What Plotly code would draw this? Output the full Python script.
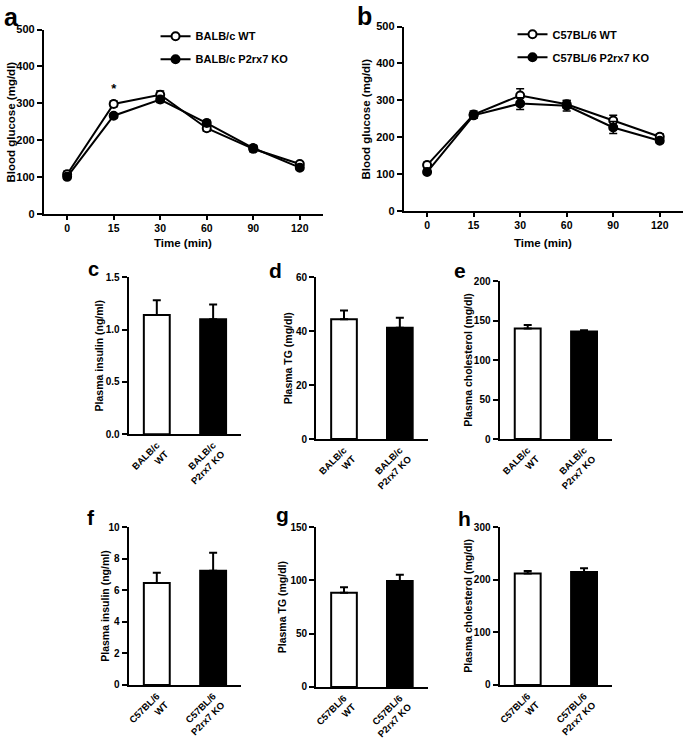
import plotly.graph_objects as go

# ---------------- data ----------------
time_labels = ["0", "15", "30", "60", "90", "120"]

balb_wt = [107, 298, 323, 232, 176, 135]
balb_wt_err = [8, 8, 10, 8, 8, 6]
balb_ko = [100, 266, 310, 246, 178, 125]
balb_ko_err = [6, 6, 8, 8, 8, 6]
balb_sig = ["", "*", "", "", "", ""]

c57_wt = [124, 261, 313, 289, 245, 201]
c57_wt_err = [8, 10, 18, 10, 14, 8]
c57_ko = [105, 259, 291, 285, 226, 190]
c57_ko_err = [6, 8, 16, 14, 16, 6]

balb_groups = ["BALB/c<br>WT", "BALB/c<br>P2rx7 KO"]
c57_groups = ["C57BL/6<br>WT", "C57BL/6<br>P2rx7 KO"]

balb_insulin = [1.14, 1.10]
balb_insulin_err = [0.14, 0.14]
balb_tg = [44.5, 41.3]
balb_tg_err = [3.2, 3.7]
balb_chol = [140, 136.5]
balb_chol_err = [4.5, 1.5]

c57_insulin = [6.47, 7.24]
c57_insulin_err = [0.64, 1.14]
c57_tg = [88.4, 99.5]
c57_tg_err = [5.3, 5.9]
c57_chol = [212, 215]
c57_chol_err = [4.5, 7]

# ---------------- layout helpers ----------------
W, H = 685, 739
FONT = "Arial, Liberation Sans, sans-serif"


def dx(a, b):
    return [a / W, b / W]


def dy(top, bottom):
    return [1 - bottom / H, 1 - top / H]


fig = go.Figure()

idx = list(range(len(time_labels)))


def line_trace(y, err, name, filled, xa, ya, legend):
    return go.Scatter(
        x=idx, y=y, name=name, mode="lines+markers",
        xaxis=xa, yaxis=ya, legend=legend, legendgroup=name,
        line=dict(color="black", width=2),
        marker=dict(symbol="circle", size=8,
                    color="black" if filled else "white",
                    line=dict(color="black", width=2)),
        error_y=dict(type="data", array=err, visible=True,
                     color="black", thickness=1.5, width=4),
    )


fig.add_trace(line_trace(balb_wt, balb_wt_err, "BALB/c WT", False, "x", "y", "legend"))
fig.add_trace(line_trace(balb_ko, balb_ko_err, "BALB/c P2rx7 KO", True, "x", "y", "legend"))
fig.add_trace(line_trace(c57_wt, c57_wt_err, "C57BL/6 WT", False, "x2", "y2", "legend2"))
fig.add_trace(line_trace(c57_ko, c57_ko_err, "C57BL/6 P2rx7 KO", True, "x2", "y2", "legend2"))

# significance star
fig.add_trace(go.Scatter(
    x=idx, y=[v + e + 30 for v, e in zip(balb_wt, balb_wt_err)],
    text=balb_sig, mode="text", xaxis="x", yaxis="y", showlegend=False,
    textfont=dict(family=FONT, size=13, color="black", weight="bold"),
))


def bar_trace(vals, errs, xa, ya):
    return go.Bar(
        x=[0, 1], y=vals, xaxis=xa, yaxis=ya, showlegend=False, width=0.46,
        marker=dict(color=["white", "black"], line=dict(color="black", width=2)),
        error_y=dict(type="data", symmetric=False, array=errs,
                     arrayminus=[0] * len(errs), visible=True,
                     color="black", thickness=2, width=4),
    )


bar_panels = [
    (balb_insulin, balb_insulin_err, 3),
    (balb_tg, balb_tg_err, 4),
    (balb_chol, balb_chol_err, 5),
    (c57_insulin, c57_insulin_err, 6),
    (c57_tg, c57_tg_err, 7),
    (c57_chol, c57_chol_err, 8),
]
for v, e, n in bar_panels:
    fig.add_trace(bar_trace(v, e, f"x{n}", f"y{n}"))

axis_common = dict(showline=True, linecolor="black", linewidth=2,
                   showgrid=False, zeroline=False, ticks="outside",
                   tickcolor="black", tickwidth=2, ticklen=5,
                   tickfont=dict(family=FONT, size=11, color="black", weight="bold"),
                   fixedrange=True)

time_axis = dict(axis_common)
time_axis.update(ticklen=4, tickfont=dict(family=FONT, size=10.5, color="black", weight="bold"),
                 range=[-0.5, 5.5], tickvals=idx, ticktext=time_labels)

# line panels
fig.update_layout(
    xaxis=dict(**time_axis, domain=dx(42, 322), anchor="y"),
    yaxis=dict(**axis_common, domain=dy(24, 212), anchor="x", range=[0, 500],
               tickvals=[0, 100, 200, 300, 400, 500]),
    xaxis2=dict(**time_axis, domain=dx(403, 683), anchor="y2"),
    yaxis2=dict(**axis_common, domain=dy(21, 209), anchor="x2", range=[0, 500],
                tickvals=[0, 100, 200, 300, 400, 500]),
)

bar_common = dict(axis_common)
bar_common["tickfont"] = dict(family=FONT, size=10, color="black", weight="bold")

bar_geo = {
    3: (dx(127, 240), dy(277, 437), [0, 1.5], [0, 0.5, 1.0, 1.5], ".1f", balb_groups),
    4: (dx(315, 427), dy(277, 442), [0, 60], [0, 20, 40, 60], "d", balb_groups),
    5: (dx(499, 612), dy(281, 442), [0, 200], [0, 50, 100, 150, 200], "d", balb_groups),
    6: (dx(127, 240), dy(532, 693), [0, 10], [0, 2, 4, 6, 8, 10], "d", c57_groups),
    7: (dx(315, 427), dy(532, 695), [0, 150], [0, 50, 100, 150], "d", c57_groups),
    8: (dx(499, 612), dy(532, 693), [0, 300], [0, 100, 200, 300], "d", c57_groups),
}
for n, (xd, yd, yr, tv, fmt, groups) in bar_geo.items():
    xc = dict(bar_common)
    xc.update(ticks="", domain=xd, anchor=f"y{n}", range=[-0.5, 1.5],
              tickvals=[0, 1], ticktext=groups, tickangle=-45,
              tickfont=dict(family=FONT, size=9.5, color="black", weight="bold"))
    yc = dict(bar_common)
    yc.update(domain=yd, anchor=f"x{n}", range=yr, tickvals=tv, tickformat=fmt)
    fig.update_layout(**{f"xaxis{n}": xc, f"yaxis{n}": yc})

# legends
leg_font = dict(family=FONT, size=11, color="black", weight="bold")
fig.update_layout(
    legend=dict(x=154 / W, y=1 - 16 / H, xanchor="left", yanchor="top",
                font=leg_font, bgcolor="rgba(0,0,0,0)", tracegroupgap=4,
                itemwidth=30),
    legend2=dict(x=512 / W, y=1 - 14 / H, xanchor="left", yanchor="top",
                 font=leg_font, bgcolor="rgba(0,0,0,0)", tracegroupgap=4,
                 itemwidth=30),
)

annotations = []
# panel letters (centre positions)
for letter, px, py, sz in [("a", 10, 11, 25), ("b", 364, 10, 25), ("c", 92, 268, 20),
                           ("d", 274, 270, 21), ("e", 459, 270, 21),
                           ("f", 89, 522, 21), ("g", 281, 519, 21), ("h", 464, 523, 21)]:
    annotations.append(dict(text=letter, x=px / W, y=1 - py / H, xref="paper", yref="paper",
                            xanchor="center", yanchor="middle", showarrow=False,
                            font=dict(family=FONT, size=sz, color="black", weight="bold")))

# axis titles
title_font = dict(family=FONT, size=11.5, color="black", weight="bold")
bar_title_font = dict(family=FONT, size=10.5, color="black", weight="bold")
for txt, px, top, bottom, f in [
    ("Blood glucose (mg/dl)", 9, 24, 212, title_font),
    ("Blood glucose (mg/dl)", 365, 21, 209, title_font),
    ("Plasma insulin (ng/ml)", 97, 277, 437, bar_title_font),
    ("Plasma TG (mg/dl)", 287, 277, 442, bar_title_font),
    ("Plasma cholesterol (mg/dl)", 468, 281, 442, bar_title_font),
    ("Plasma insulin (ng/ml)", 103, 532, 693, bar_title_font),
    ("Plasma TG (mg/dl)", 281, 532, 695, bar_title_font),
    ("Plasma cholesterol (mg/dl)", 467, 532, 693, bar_title_font),
]:
    annotations.append(dict(text=txt, x=px / W, y=1 - (top + bottom) / 2 / H,
                            xref="paper", yref="paper", textangle=-90,
                            xanchor="center", yanchor="middle", showarrow=False, font=f))

for cx in [182, 543]:
    annotations.append(dict(text="Time (min)", x=cx / W, y=1 - 242 / H, xref="paper",
                            yref="paper", xanchor="center", yanchor="middle",
                            showarrow=False, font=title_font))

fig.update_layout(
    annotations=annotations,
    width=W, height=H,
    margin=dict(l=0, r=0, t=0, b=0),
    paper_bgcolor="white", plot_bgcolor="white",
    font=dict(family=FONT, color="black"),
)

fig.write_html("out.html", config={"displayModeBar": False},
               post_script="document.body.style.margin='0';")
